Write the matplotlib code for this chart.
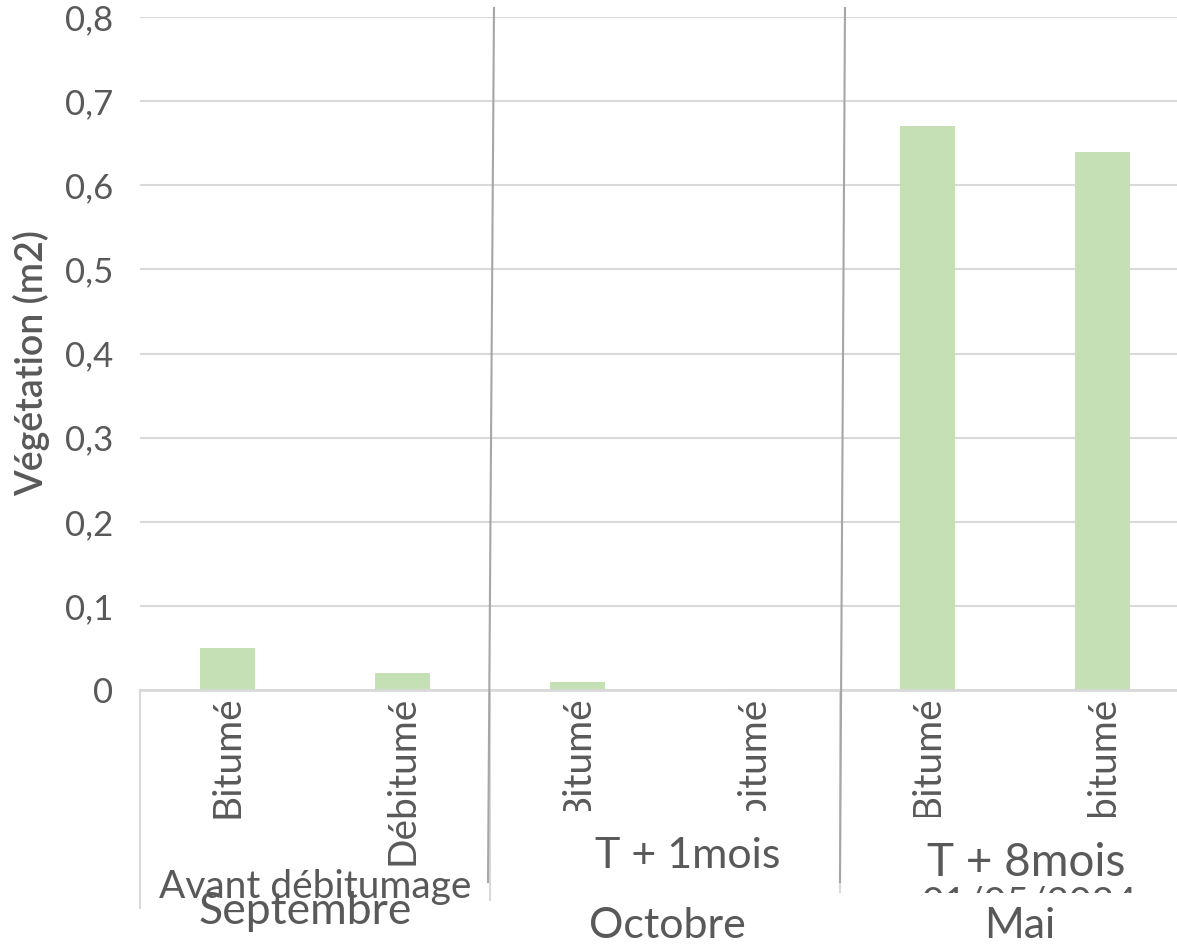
import matplotlib
matplotlib.use("Agg")
import matplotlib.pyplot as plt
from matplotlib.patches import Rectangle
from matplotlib.lines import Line2D

plt.rcParams['font.family'] = ['Lato', 'DejaVu Sans']

# data
categories = ["Bitumé", "Débitumé", "Bitumé", "Débitumé", "Bitumé", "Débitumé"]
vegetation = [0.05, 0.02, 0.01, 0.001, 0.67, 0.64]
y_ticks = [0, 0.1, 0.2, 0.3, 0.4, 0.5, 0.6, 0.7, 0.8]
y_tick_labels = ["0", "0,1", "0,2", "0,3", "0,4", "0,5", "0,6", "0,7", "0,8"]
phases = ["Avant débitumage", "T + 1mois", "T + 8mois"]
months = ["Septembre", "Octobre", "Mai"]

W, H = 1177, 944
GREY = "#595959"
BAR = "#c5e0b4"
GRID = "#d9d9d9"


def fx(x):
    return x / W


def fy(y):
    return 1 - y / H


fig = plt.figure(figsize=(W / 100, H / 100), dpi=100)
# plot area runs past the right edge of the image
ax = fig.add_axes([fx(140), fy(690), fx(1190) - fx(140), fy(17) - fy(690)])

x = list(range(len(categories)))
ax.bar(x, vegetation, width=0.314, color=BAR, zorder=2)
ax.set_xlim(-0.5, len(categories) - 0.5)
ax.set_ylim(0, 0.8)

ax.set_yticks(y_ticks)
ax.set_yticklabels(y_tick_labels)
ax.tick_params(axis='y', length=0, pad=19, labelsize=25, labelcolor=GREY)
ax.set_xticks(x)
ax.set_xticklabels(categories, rotation=90, va='top', ha='center')
ax.tick_params(axis='x', length=0, pad=4, labelsize=28, labelcolor=GREY)

ax.grid(axis='y', color=GRID, linewidth=1.5, zorder=0)
for side in ['top', 'right', 'left']:
    ax.spines[side].set_visible(False)
ax.spines['bottom'].set_color(GRID)
ax.spines['bottom'].set_linewidth(2)

fig.text(fx(31), fy(363), "Végétation (m2)", rotation=90, ha='center', va='center',
         fontsize=27, fontweight='semibold', color=GREY)

# category axis borders below the plot
for xs, ye in [(140, 908), (490, 900), (840, 900)]:
    fig.add_artist(Line2D([fx(xs), fx(xs)], [fy(690), fy(ye)], color=GRID,
                          linewidth=1.5, zorder=1))

# date label partly hidden behind the "Mai" box
fig.text(fx(1030), fy(914), "01/05/2024", ha='center', va='baseline', fontsize=28,
         color=GREY, zorder=1)

# white text boxes over the category labels
for x0, y0, x1, y1 in [(500, 811, 836, 884), (845, 817, 1177, 886),
                       (500, 893, 836, 944), (836, 893, 1177, 944)]:
    fig.add_artist(Rectangle((fx(x0), fy(y1)), fx(x1) - fx(x0), fy(y0) - fy(y1),
                             facecolor='white', edgecolor='none', zorder=1.5))

# phase separators
for (xa, ya), (xb, yb) in [((494, 8), (488, 882)), ((845, 8), (840, 882))]:
    fig.add_artist(Line2D([fx(xa), fx(xb)], [fy(ya), fy(yb)], color="#a6a6a6",
                          linewidth=1.5, zorder=2))

phase_pos = [(315, 898), (688, 868), (1026, 876)]
phase_size = [28, 31, 33]
month_pos = [(305, 924), (667, 938), (1020, 938)]
month_size = [32, 31, 31]
for label, (px, py), fs in zip(phases, phase_pos, phase_size):
    fig.text(fx(px), fy(py), label, ha='center', va='baseline', fontsize=fs,
             color=GREY, zorder=3)
for label, (px, py), fs in zip(months, month_pos, month_size):
    fig.text(fx(px), fy(py), label, ha='center', va='baseline', fontsize=fs,
             color=GREY, zorder=3)

fig.savefig("out.png", dpi=100)
